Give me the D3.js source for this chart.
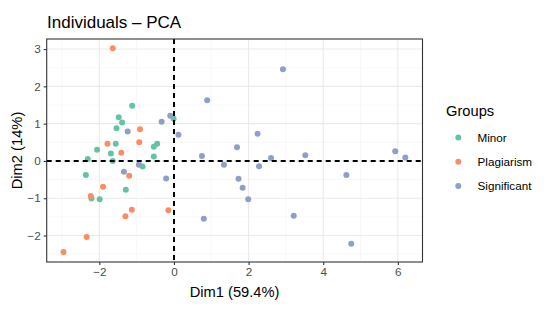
<!DOCTYPE html>
<html><head><meta charset="utf-8">
<script src="https://cdn.jsdelivr.net/npm/d3@7"></script>
<style>body{margin:0;background:#fff}svg{font-family:"Liberation Sans",Arial,Helvetica,sans-serif}</style>
</head><body><svg id="c" width="550" height="314"></svg>
<script>
const groups = ["Minor","Plagiarism","Significant"];
const colors = ["#66C2A5","#FC8D62","#8DA0CB"];
const minorX = [-1.12,-1.48,-1.39,-1.54,-0.01,-1.56,-0.54,-0.45,-2.06,-1.69,-0.54,-2.31,-1.64,-0.84,-2.36,-1.29,-2.21,-1.99];
const minorY = [1.48,1.17,1.03,0.88,1.13,0.46,0.38,0.46,0.30,0.20,0.12,0.05,0.0,-0.15,-0.38,-0.77,-1.01,-1.03];
const plagX = [-1.64,-0.91,-1.78,-0.93,-1.41,-1.20,-1.90,-2.23,-1.13,-1.30,-0.15,-2.34,-2.96];
const plagY = [3.02,0.85,0.46,0.50,0.22,-0.40,-0.69,-0.94,-1.31,-1.48,-1.32,-2.04,-2.44];
const sigX = [-1.24,-0.10,-0.33,0.12,-0.94,-1.34,-0.21,2.92,0.89,2.24,1.69,0.75,2.60,1.34,2.28,1.73,1.84,1.99,0.80,3.52,5.93,6.20,4.62,3.21,4.75];
const sigY = [0.79,1.21,1.05,0.70,-0.10,-0.29,-0.47,2.46,1.63,0.73,0.37,0.13,0.08,-0.10,-0.14,-0.48,-0.72,-1.03,-1.55,0.15,0.26,0.09,-0.38,-1.47,-2.22];
const xTicks = [-2,0,2,4,6];
const yTicks = [-2,-1,0,1,2,3];

const svg = d3.select("#c");
const L=46.7, R=422.5, T=39, B=262;
const x = d3.scaleLinear().domain([-3.41,6.66]).range([L,R]);
const y = d3.scaleLinear().domain([-2.71,3.27]).range([B,T]);

const pts = [];
[[minorX,minorY],[plagX,plagY],[sigX,sigY]].forEach((s,gi)=>{
  s[0].forEach((v,i)=>pts.push({x:v,y:s[1][i],g:gi}));
});

// grid
const minorXs = d3.range(-3,7,1).filter(v=>v%2!==0);
const minorYs = d3.range(-2.5,3.5,1);
const g = svg.append("g");
g.selectAll(".mx").data(minorXs).join("line").attr("x1",d=>x(d)).attr("x2",d=>x(d)).attr("y1",T).attr("y2",B).attr("stroke","#F2F2F2").attr("stroke-width",0.55);
g.selectAll(".my").data(minorYs).join("line").attr("y1",d=>y(d)).attr("y2",d=>y(d)).attr("x1",L).attr("x2",R).attr("stroke","#F2F2F2").attr("stroke-width",0.55);
g.selectAll(".Mx").data(xTicks).join("line").attr("x1",d=>x(d)).attr("x2",d=>x(d)).attr("y1",T).attr("y2",B).attr("stroke","#EBEBEB").attr("stroke-width",1.1);
g.selectAll(".My").data(yTicks).join("line").attr("y1",d=>y(d)).attr("y2",d=>y(d)).attr("x1",L).attr("x2",R).attr("stroke","#EBEBEB").attr("stroke-width",1.1);

// points
svg.append("g").selectAll("circle").data(pts).join("circle")
  .attr("cx",d=>x(d.x)).attr("cy",d=>y(d.y)).attr("r",3).attr("fill",d=>colors[d.g]);

// dashed lines (snapped to pixel grid)
const x0 = Math.round(x(0)), y0 = Math.round(y(0));
svg.append("path").attr("d",`M${L},${y0}H${R}`).attr("stroke","#000").attr("stroke-width",2).attr("fill","none").attr("stroke-dasharray","5,4");
svg.append("path").attr("d",`M${x0},${T}V${B}`).attr("stroke","#000").attr("stroke-width",2).attr("fill","none").attr("stroke-dasharray","5,4");

// border
svg.append("rect").attr("x",L).attr("y",T).attr("width",R-L).attr("height",B-T).attr("fill","none").attr("stroke","#333").attr("stroke-width",1.1);

// axes
const xa = svg.append("g").attr("transform",`translate(0,${B})`).call(d3.axisBottom(x).tickValues(xTicks).tickSize(3).tickPadding(3).tickFormat(d=>d<0?"\u2212"+Math.abs(d):d));
const ya = svg.append("g").attr("transform",`translate(${L},0)`).call(d3.axisLeft(y).tickValues(yTicks).tickSize(3).tickPadding(3).tickFormat(d=>d<0?"\u2212"+Math.abs(d):d));
[xa,ya].forEach(a=>{a.select(".domain").remove();a.selectAll("line").attr("stroke","#333").attr("stroke-width",1.1);
  a.selectAll("text").attr("fill","#4D4D4D").style("font-size","11.7px").style("font-family","Liberation Sans,Arial,sans-serif");});

// titles
svg.append("text").attr("x",47).attr("y",28).text("Individuals \u2013 PCA").style("font-size","17px").attr("fill","#000");
svg.append("text").attr("x",(L+R)/2).attr("y",297).attr("text-anchor","middle").text("Dim1 (59.4%)").style("font-size","14.7px");
svg.append("text").attr("transform",`translate(22,${(T+B)/2}) rotate(-90)`).attr("text-anchor","middle").text("Dim2 (14%)").style("font-size","14.7px");

// legend
svg.append("text").attr("x",446).attr("y",116).text("Groups").style("font-size","14.7px");
const lg = svg.append("g").selectAll("g").data(groups).join("g").attr("transform",(d,i)=>`translate(0,${137.5+i*24.2})`);
lg.append("circle").attr("cx",458.3).attr("cy",0).attr("r",3).attr("fill",(d,i)=>colors[i]);
lg.append("text").attr("x",477.5).attr("y",4).text(d=>d).style("font-size","11.7px");
</script></body></html>
